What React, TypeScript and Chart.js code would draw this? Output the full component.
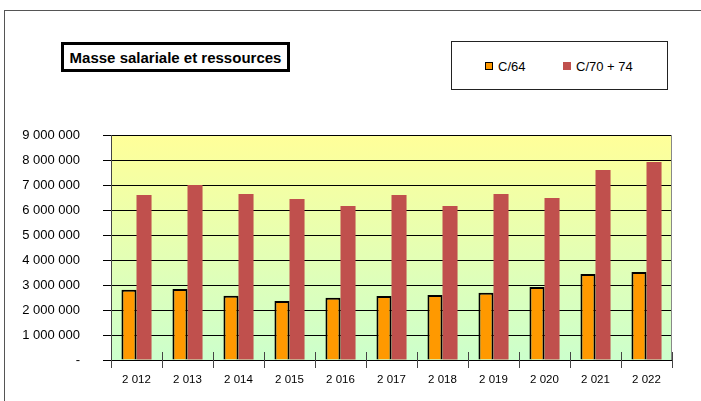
import React, { useEffect, useRef } from "react";
import { Chart, registerables } from "chart.js";

Chart.register(...registerables);

const years = [2012, 2013, 2014, 2015, 2016, 2017, 2018, 2019, 2020, 2021, 2022];
const c64 = [2810000, 2840000, 2570000, 2360000, 2490000, 2560000, 2600000, 2690000, 2920000, 3440000, 3520000];
const c7074 = [6600000, 7000000, 6640000, 6440000, 6160000, 6600000, 6160000, 6640000, 6480000, 7600000, 7920000];
const seriesNames = ["C/64", "C/70 + 74"];
const titleText = "Masse salariale et ressources";
const yMax = 9000000;
const yStep = 1000000;

const fmt = (v: number) => String(v).replace(/\B(?=(\d{3})+(?!\d))/g, " ");

const ORANGE = "#FF9900";
const RED = "#C0504D";

const plotDecor = {
  id: "plotDecor",
  beforeDraw(chart: any) {
    const { ctx, chartArea } = chart;
    const g = ctx.createLinearGradient(0, chartArea.top, 0, chartArea.bottom);
    g.addColorStop(0, "#FFFF99");
    g.addColorStop(1, "#CCFFCC");
    ctx.save();
    ctx.fillStyle = g;
    ctx.fillRect(chartArea.left, chartArea.top, chartArea.right - chartArea.left, chartArea.bottom - chartArea.top);
    ctx.restore();
  },
  afterDraw(chart: any) {
    const { ctx, chartArea } = chart;
    ctx.save();
    ctx.strokeStyle = "#888888";
    ctx.lineWidth = 1;
    ctx.beginPath();
    ctx.moveTo(Math.round(chartArea.right) - 0.5, chartArea.top);
    ctx.lineTo(Math.round(chartArea.right) - 0.5, chartArea.bottom);
    ctx.stroke();
    ctx.strokeStyle = "#444444";
    const n = years.length;
    const w = (chartArea.right - chartArea.left) / n;
    for (let i = 0; i <= n; i++) {
      const x = Math.round(chartArea.left + i * w) + 0.5;
      ctx.beginPath();
      ctx.moveTo(x, chartArea.bottom - 8);
      ctx.lineTo(x, chartArea.bottom + 8);
      ctx.stroke();
    }
    ctx.restore();
  },
};

export default function App() {
  const ref = useRef<HTMLCanvasElement | null>(null);

  useEffect(() => {
    if (!ref.current) return;
    const chart = new Chart(ref.current, {
      type: "bar",
      data: {
        labels: years.map((y) => fmt(y)),
        datasets: [
          {
            label: seriesNames[0],
            data: c64,
            backgroundColor: ORANGE,
            borderColor: "#000000",
            borderWidth: 2,
            categoryPercentage: 0.59,
            barPercentage: 1,
          },
          {
            label: seriesNames[1],
            data: c7074,
            backgroundColor: RED,
            borderWidth: 0,
            categoryPercentage: 0.59,
            barPercentage: 1,
          },
        ],
      },
      plugins: [plotDecor],
      options: {
        responsive: false,
        animation: false,
        layout: { padding: { left: 0, top: 135, right: 29, bottom: 0 } },
        plugins: {
          legend: { display: false },
          title: { display: false },
          tooltip: { enabled: false },
        },
        scales: {
          x: {
            offset: true,
            afterFit: (s: any) => {
              s.height = 41;
            },
            grid: {
              offset: true,
              drawOnChartArea: false,
              drawTicks: true,
              tickLength: 8,
              tickColor: "#444444",
            },
            border: { display: true, color: "#000000", width: 1 },
            ticks: {
              color: "#000000",
              padding: 5,
              maxRotation: 0,
              autoSkip: false,
              font: { family: "Arial, 'Liberation Sans', sans-serif", size: 11.5 },
            },
          },
          y: {
            min: 0,
            max: yMax,
            afterFit: (s: any) => {
              s.width = 111;
            },
            grid: {
              color: "#000000",
              lineWidth: 1,
              drawTicks: true,
              tickLength: 8,
              tickColor: "#000000",
            },
            border: { display: true, color: "#444444", width: 1 },
            ticks: {
              stepSize: yStep,
              padding: 23,
              color: "#000000",
              font: { family: "Arial, 'Liberation Sans', sans-serif", size: 13 },
              callback: (v: any) => (Number(v) === 0 ? "-" : fmt(Number(v))),
            },
          },
        },
      },
    });
    return () => chart.destroy();
  }, []);

  const font = "Arial, 'Liberation Sans', sans-serif";

  return (
    <div style={{ position: "fixed", left: 0, top: 0, width: 701, height: 401, overflow: "hidden", background: "#fff" }}>
      <div
        style={{
          position: "absolute",
          left: 4,
          top: 10,
          width: 800,
          height: 600,
          border: "1px solid #555",
          boxSizing: "border-box",
        }}
      />
      <canvas ref={ref} width={701} height={401} style={{ position: "absolute", left: 0, top: 0, width: 701, height: 401 }} />
      <div
        style={{
          position: "absolute",
          left: 61,
          top: 42,
          width: 229,
          height: 30,
          border: "3px solid #000",
          boxSizing: "border-box",
          background: "#fff",
          fontFamily: font,
          fontWeight: "bold",
          fontSize: 15,
          display: "flex",
          alignItems: "center",
          justifyContent: "center",
          whiteSpace: "nowrap",
          color: "#000",
        }}
      >
        {titleText}
      </div>
      <div
        style={{
          position: "absolute",
          left: 451,
          top: 41,
          width: 217,
          height: 49,
          border: "1px solid #222",
          boxSizing: "border-box",
          background: "#fff",
          fontFamily: font,
          fontSize: 13,
          color: "#000",
        }}
      >
        <div style={{ position: "absolute", left: 33, top: 20, width: 8, height: 8, background: ORANGE, border: "1px solid #000", boxSizing: "border-box" }} />
        <div style={{ position: "absolute", left: 46, top: 17, lineHeight: "15px", whiteSpace: "nowrap" }}>{seriesNames[0]}</div>
        <div style={{ position: "absolute", left: 111, top: 20, width: 8, height: 8, background: RED, boxSizing: "border-box" }} />
        <div style={{ position: "absolute", left: 124, top: 17, lineHeight: "15px", whiteSpace: "nowrap" }}>{seriesNames[1]}</div>
      </div>
    </div>
  );
}
